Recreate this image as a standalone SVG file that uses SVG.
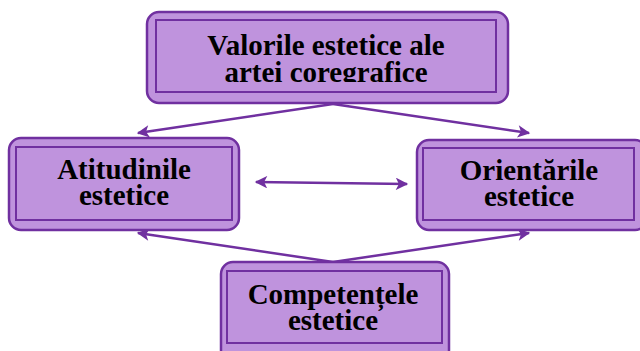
<svg xmlns="http://www.w3.org/2000/svg" width="640" height="351" viewBox="0 0 640 351">
<style>
.outer{fill:#BF93DD;stroke:#7030A0;stroke-width:2.5}
.inner{fill:none;stroke:#7030A0;stroke-width:2}
.t{font-family:"Liberation Serif","Times New Roman",serif;font-weight:bold;font-size:29px;fill:#000;text-anchor:middle}
.c{stroke:#7030A0;stroke-width:2.5;fill:none}
</style>
<defs>
<marker id="ah" viewBox="0 0 10 10" refX="9" refY="5" markerWidth="5.5" markerHeight="5" orient="auto-start-reverse" markerUnits="strokeWidth">
<path d="M0,0 L10,5 L0,10 L2.5,5 z" fill="#7030A0"/>
</marker>
<clipPath id="clipTop"><rect x="150" y="14" width="356" height="68"/></clipPath>
</defs>
<g id="connectors">
<line class="c" x1="333" y1="104" x2="138" y2="133" marker-end="url(#ah)"/>
<line class="c" x1="333" y1="104" x2="529" y2="133" marker-end="url(#ah)"/>
<line class="c" x1="333" y1="262" x2="138" y2="233" marker-end="url(#ah)"/>
<line class="c" x1="333" y1="262" x2="529" y2="233" marker-end="url(#ah)"/>
<line class="c" x1="256" y1="182" x2="407" y2="184" marker-start="url(#ah)" marker-end="url(#ah)"/>
</g>
<g id="node-valorile">
<rect class="outer" x="147" y="12" width="361" height="91" rx="12"/>
<rect class="inner" x="156" y="20" width="340" height="72"/>
<g clip-path="url(#clipTop)">
<text class="t" x="326" y="55">Valorile estetice ale</text>
<text class="t" x="326" y="82">artei coregrafice</text>
</g>
</g>
<g id="node-atitudinile">
<rect class="outer" x="9" y="138" width="230" height="92" rx="12"/>
<rect class="inner" x="16" y="147" width="216" height="73"/>
<text class="t" x="124" y="179">Atitudinile</text>
<text class="t" x="124" y="205">estetice</text>
</g>
<g id="node-orientarile">
<rect class="outer" x="417" y="140" width="230" height="90" rx="12"/>
<rect class="inner" x="423" y="148" width="211" height="72"/>
<text class="t" x="529" y="180">Orientările</text>
<text class="t" x="529" y="206">estetice</text>
</g>
<g id="node-competentele">
<rect class="outer" x="221" y="262" width="228" height="100" rx="12"/>
<rect class="inner" x="227" y="271" width="215" height="72"/>
<text class="t" x="333" y="304">Competențele</text>
<text class="t" x="333" y="330">estetice</text>
</g>
</svg>
